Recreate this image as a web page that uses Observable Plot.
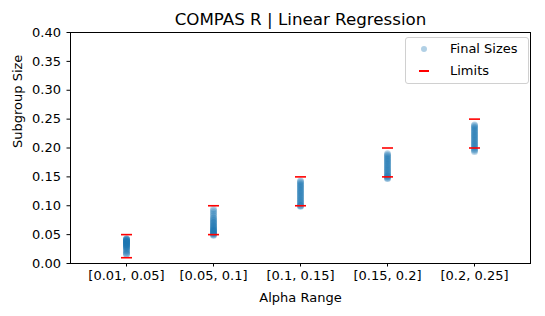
<!DOCTYPE html>
<html>
<head>
<meta charset="utf-8">
<script src="https://cdn.jsdelivr.net/npm/d3@7"></script>
<script src="https://cdn.jsdelivr.net/npm/@observablehq/plot@0.6"></script>
<style>
  body { margin: 0; background: #fff; font-family: "DejaVu Sans", sans-serif; }
  #wrap { position: relative; width: 545px; height: 316px; }
  #legend { position: absolute; left: 405px; top: 37px; width: 122px; height: 45px;
    border: 1px solid #d0d0d0; border-radius: 3px; background: rgba(255,255,255,0.8);
    font-size: 13px; color: #000; }
  .row { position: absolute; left: 0; height: 16px; line-height: 16px; }
  .lab { position: absolute; left: 44px; white-space: nowrap; }
</style>
</head>
<body>
<div id="wrap">
  <div id="chart"></div>
  <div id="legend">
    <div class="row" style="top:3px;width:120px">
      <span style="position:absolute;left:15px;top:5px;width:6px;height:6px;border-radius:50%;background:#1f77b4;opacity:0.35"></span>
      <span class="lab">Final Sizes</span>
    </div>
    <div class="row" style="top:25px;width:120px">
      <span style="position:absolute;left:13px;top:7px;width:10px;height:1.5px;background:#ff0000"></span>
      <span class="lab">Limits</span>
    </div>
  </div>
</div>
<script>
const categories = ["[0.01, 0.05]", "[0.05, 0.1]", "[0.1, 0.15]", "[0.15, 0.2]", "[0.2, 0.25]"];
const lowerLimits = [0.01, 0.05, 0.10, 0.15, 0.20];
const upperLimits = [0.05, 0.10, 0.15, 0.20, 0.25];
const finalSizes = [
  [0.043, 0.042, 0.042, 0.041, 0.040, 0.040, 0.039, 0.038, 0.038, 0.037, 0.036, 0.036, 0.035, 0.034, 0.033, 0.033, 0.032, 0.031, 0.030, 0.029, 0.028, 0.027, 0.025, 0.023, 0.021, 0.019, 0.017, 0.016],
  [0.094, 0.091, 0.088, 0.085, 0.082, 0.079, 0.077, 0.075, 0.073, 0.071, 0.070, 0.068, 0.066, 0.065, 0.063, 0.062, 0.060, 0.059, 0.058, 0.057, 0.056, 0.055, 0.054, 0.053, 0.052, 0.051, 0.050, 0.049],
  [0.143, 0.141, 0.139, 0.137, 0.135, 0.133, 0.131, 0.129, 0.127, 0.125, 0.123, 0.121, 0.119, 0.117, 0.115, 0.113, 0.111, 0.109, 0.107, 0.105, 0.103, 0.101, 0.100, 0.099],
  [0.190, 0.188, 0.186, 0.184, 0.182, 0.180, 0.178, 0.176, 0.174, 0.172, 0.170, 0.168, 0.166, 0.164, 0.162, 0.160, 0.158, 0.156, 0.154, 0.152, 0.151, 0.150, 0.148, 0.147],
  [0.240, 0.238, 0.236, 0.234, 0.232, 0.230, 0.228, 0.226, 0.224, 0.222, 0.220, 0.218, 0.216, 0.214, 0.212, 0.210, 0.208, 0.206, 0.204, 0.202, 0.200, 0.198, 0.196, 0.194]
];
const yTicks = [0, 0.05, 0.10, 0.15, 0.20, 0.25, 0.30, 0.35, 0.40];

const points = finalSizes.flatMap((vals, i) => vals.map(v => ({cat: categories[i], size: v})));
const limits = categories.flatMap((c, i) => [{cat: c, v: lowerLimits[i]}, {cat: c, v: upperLimits[i]}]);

const hline = {
  draw(context, size) {
    const w = Math.sqrt(size / Math.PI);
    context.moveTo(-w, 0);
    context.lineTo(w, 0);
  }
};

const chart = Plot.plot({
  width: 545,
  height: 316,
  marginLeft: 70,
  marginRight: 15,
  marginTop: 32,
  marginBottom: 53,
  style: {fontFamily: "DejaVu Sans", fontSize: "13px", color: "#000", background: "#fff"},
  x: {type: "point", domain: categories, padding: 0.62, label: null},
  y: {domain: [0, 0.4], label: null},
  marks: [
    Plot.frame({stroke: "#000", strokeWidth: 1}),
    Plot.axisY({ticks: yTicks, tickFormat: d3.format(".2f"), tickSize: 3.5, tickPadding: 6, fontSize: 13, label: null}),
    Plot.axisX({tickSize: 3.5, tickPadding: 4, fontSize: 13, label: null}),
    Plot.dot(points, {x: "cat", y: "size", r: 3.5, fill: "#1f77b4", fillOpacity: 0.3, stroke: "none"}),
    Plot.dot(limits, {x: "cat", y: "v", r: 5.5, symbol: hline, fill: "none", stroke: "#ff0000", strokeWidth: 1.6}),
    Plot.text(["COMPAS R | Linear Regression"], {frameAnchor: "top", dy: -19, fontSize: 16.7, fill: "#000"}),
    Plot.text(["Alpha Range"], {frameAnchor: "bottom", dy: 38, fontSize: 13, fill: "#000"}),
    Plot.text(["Subgroup Size"], {frameAnchor: "left", dx: -53, rotate: -90, fontSize: 13, fill: "#000"})
  ]
});
document.getElementById("chart").appendChild(chart);
</script>
</body>
</html>
